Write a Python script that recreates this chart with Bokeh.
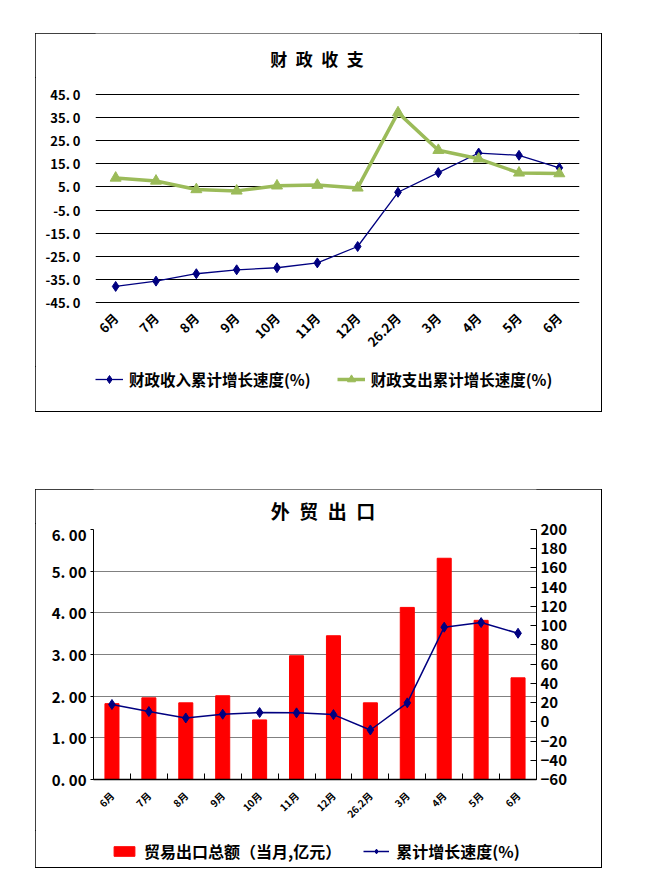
import math
from bokeh.plotting import figure
from bokeh.models import (FixedTicker, Range1d, LinearAxis, Legend, LegendItem,
                          CustomJSTickFormatter, Spacer, Label)
from bokeh.layouts import column, row
from bokeh.embed import file_html
from bokeh.resources import INLINE

# ---------------- data ----------------
months = ["6月", "7月", "8月", "9月", "10月", "11月", "12月", "26.2月", "3月", "4月", "5月", "6月"]
revenue_growth = [-38.1, -35.8, -32.6, -30.9, -30.0, -27.9, -20.8, 2.7, 11.2, 19.7, 18.7, 13.3]
expenditure_growth = [8.9, 7.6, 3.9, 3.3, 5.5, 5.8, 4.6, 37.2, 20.9, 17.2, 11.1, 10.8]
export_total = [1.82, 1.96, 1.84, 2.01, 1.43, 2.97, 3.45, 1.84, 4.13, 5.31, 3.82, 2.44]
export_growth = [18.0, 10.7, 4.0, 7.9, 9.6, 9.3, 7.5, -8.5, 19.7, 98.4, 103.2, 92.1]
fin_ticks = list(range(-45, 46, 10))
left_ticks = [0, 1, 2, 3, 4, 5, 6]
right_ticks = list(range(-60, 201, 20))
title1 = "财\u2002政\u2002收\u2002支"
title2 = "外\u2002贸\u2002出\u2002口"

FONT = "Noto Sans CJK SC"
W = 566
BOX_H = 378
x = list(range(len(months)))
overrides = {i: m for i, m in enumerate(months)}
BOX = {"outline": "1px solid black", "outline-offset": "-1px"}
NAVY = "#000080"
GREEN = "#9BBB59"
RED = "#FF0000"


def strip_fig(height, lo=0, hi=1):
    f = figure(width=W, height=height, output_backend="svg", toolbar_location=None,
               x_range=Range1d(lo, hi), y_range=Range1d(lo, hi), min_border=0,
               x_axis_location=None, y_axis_location=None)
    f.grid.visible = False
    f.outline_line_color = None
    return f


def title_strip(height, text, size, xf, yf):
    f = strip_fig(height)
    f.add_layout(Label(x=xf, y=yf, text=text, text_align="center", text_baseline="middle",
                       text_font=FONT, text_font_size=size, text_font_style="bold",
                       text_color="black"))
    return f


def style_legend(leg, size):
    leg.border_line_color = None
    leg.background_fill_color = None
    leg.background_fill_alpha = 0
    leg.label_text_font = FONT
    leg.label_text_font_style = "bold"
    leg.label_text_font_size = size
    leg.label_text_color = "black"
    leg.padding = 0
    leg.margin = 0


def style_axis_labels(ax, size):
    ax.major_label_text_font = FONT
    ax.major_label_text_font_style = "bold"
    ax.major_label_text_font_size = size
    ax.major_label_text_color = "black"


# ---------------- chart 1 ----------------
tf1 = title_strip(44, title1, "17px", 0.4576, 0.443)

p1 = figure(width=W, height=289, output_backend="svg", toolbar_location=None,
            x_range=Range1d(-0.5, 11.5), y_range=Range1d(-45.5, 45.5),
            min_border_left=60, min_border_right=22, min_border_top=16, min_border_bottom=63)
p1.outline_line_color = None

p1.xgrid.grid_line_color = None
p1.ygrid.grid_line_color = "black"
p1.ygrid.ticker = FixedTicker(ticks=fin_ticks)
p1.yaxis.ticker = FixedTicker(ticks=fin_ticks)
p1.yaxis.formatter = CustomJSTickFormatter(code="return tick.toFixed(1).replace('.', '. ');")
p1.yaxis.axis_line_color = None
p1.yaxis.major_tick_line_color = None
p1.yaxis.minor_tick_line_color = None
style_axis_labels(p1.yaxis, "13px")
p1.yaxis.major_label_standoff = 9

p1.xaxis.ticker = FixedTicker(ticks=x)
p1.xaxis.major_label_overrides = overrides
p1.xaxis.major_label_orientation = math.pi / 4
p1.xaxis.axis_line_color = None
p1.xaxis.major_tick_line_color = None
p1.xaxis.minor_tick_line_color = None
style_axis_labels(p1.xaxis, "13px")
p1.xaxis.major_label_standoff = 6

p1.line(x, revenue_growth, color=NAVY, line_width=1.3)
p1.scatter(x, revenue_growth, marker="diamond", size=10, color=NAVY)
p1.line(x, expenditure_growth, color=GREEN, line_width=3.5)
p1.scatter(x, expenditure_growth, marker="triangle", size=11, color=GREEN)

# legend strip of chart 1 (its view lies away from the data; renderers feed the legend)
lf1 = strip_fig(45, 1000, 1001)
a1 = lf1.line(x, revenue_growth, color=NAVY, line_width=1.3)
b1 = lf1.scatter(x, revenue_growth, marker="diamond", size=8, color=NAVY)
c1 = lf1.line(x, expenditure_growth, color=GREEN, line_width=3.5)
d1 = lf1.scatter(x, expenditure_growth, marker="triangle", size=9, color=GREEN)
leg1 = Legend(items=[LegendItem(label="财政收入累计增长速度(%)", renderers=[a1, b1]),
                     LegendItem(label="财政支出累计增长速度(%)", renderers=[c1, d1])],
              orientation="horizontal", location=(0, 21))
style_legend(leg1, "15.5px")
leg1.glyph_width = 28
leg1.label_standoff = 6
leg1.spacing = 26
lf1.add_layout(leg1)

# ---------------- chart 2 ----------------
tf2 = title_strip(34, title2, "19px", 0.518, 0.382)

p2 = figure(width=W, height=307, output_backend="svg", toolbar_location=None,
            x_range=Range1d(-0.5, 11.5), y_range=Range1d(0, 6),
            min_border_left=58, min_border_right=65, min_border_top=6, min_border_bottom=51)
p2.outline_line_color = None
p2.extra_y_ranges = {"r": Range1d(-60, 200)}

p2.xgrid.grid_line_color = None
p2.ygrid.grid_line_color = "#808080"
p2.ygrid.ticker = FixedTicker(ticks=left_ticks)
p2.yaxis.ticker = FixedTicker(ticks=left_ticks)
p2.yaxis.formatter = CustomJSTickFormatter(code="return tick.toFixed(2).replace('.', '. ');")
p2.yaxis.axis_line_color = "black"
p2.yaxis.major_tick_line_color = "black"
p2.yaxis.major_tick_in = 0
p2.yaxis.major_tick_out = 3
p2.yaxis.minor_tick_line_color = None
style_axis_labels(p2.yaxis, "15px")
p2.yaxis.major_label_standoff = 4

ry = LinearAxis(y_range_name="r", ticker=FixedTicker(ticks=right_ticks),
                formatter=CustomJSTickFormatter(code="return (tick < 0 ? '\u2212' + (-tick) : '' + tick);"))
ry.axis_line_color = "black"
ry.major_tick_line_color = "black"
ry.major_tick_in = 6
ry.major_tick_out = 0
ry.minor_tick_line_color = None
style_axis_labels(ry, "15px")
ry.major_label_standoff = 4
p2.add_layout(ry, "right")

p2.xaxis.ticker = FixedTicker(ticks=x, minor_ticks=[i - 0.5 for i in range(13)])
p2.xaxis.major_label_overrides = overrides
p2.xaxis.major_label_orientation = math.pi / 4
p2.xaxis.axis_line_color = "black"
p2.xaxis.axis_line_width = 1.5
p2.xaxis.major_tick_line_color = None
p2.xaxis.minor_tick_line_color = "black"
p2.xaxis.minor_tick_in = 6
p2.xaxis.minor_tick_out = 0
style_axis_labels(p2.xaxis, "10px")
p2.xaxis.major_label_standoff = 8

p2.vbar(x=x, top=export_total, width=0.38, color=RED)
p2.line(x, export_growth, y_range_name="r", color=NAVY, line_width=1.5)
p2.scatter(x, export_growth, y_range_name="r", marker="diamond", size=10, color=NAVY)

lf2 = strip_fig(37, 1000, 1001)
a2 = lf2.vbar(x=x, top=export_total, width=0.38, color=RED)
b2 = lf2.line(x, export_growth, color=NAVY, line_width=1.5)
c2 = lf2.scatter(x, export_growth, marker="diamond", size=8, color=NAVY)
leg2 = Legend(items=[LegendItem(label="贸易出口总额（当月,亿元）", renderers=[a2]),
                     LegendItem(label="累计增长速度(%)", renderers=[b2, c2])],
              orientation="horizontal", location=(18, 4))
style_legend(leg2, "16px")
leg2.glyph_width = 26
leg2.glyph_height = 12
leg2.label_standoff = 7
leg2.spacing = 22
lf2.add_layout(leg2)

box1 = column(tf1, p1, lf1, width=W + 1, height=BOX_H + 1, styles=BOX)
box2 = column(tf2, p2, lf2, width=W + 1, height=BOX_H + 1, styles=BOX)

layout = column(Spacer(height=33),
                row(Spacer(width=35), box1, Spacer(width=4)),
                Spacer(height=77),
                row(Spacer(width=35), box2, Spacer(width=4)))

open("out.html", "w").write(file_html(layout, INLINE))
